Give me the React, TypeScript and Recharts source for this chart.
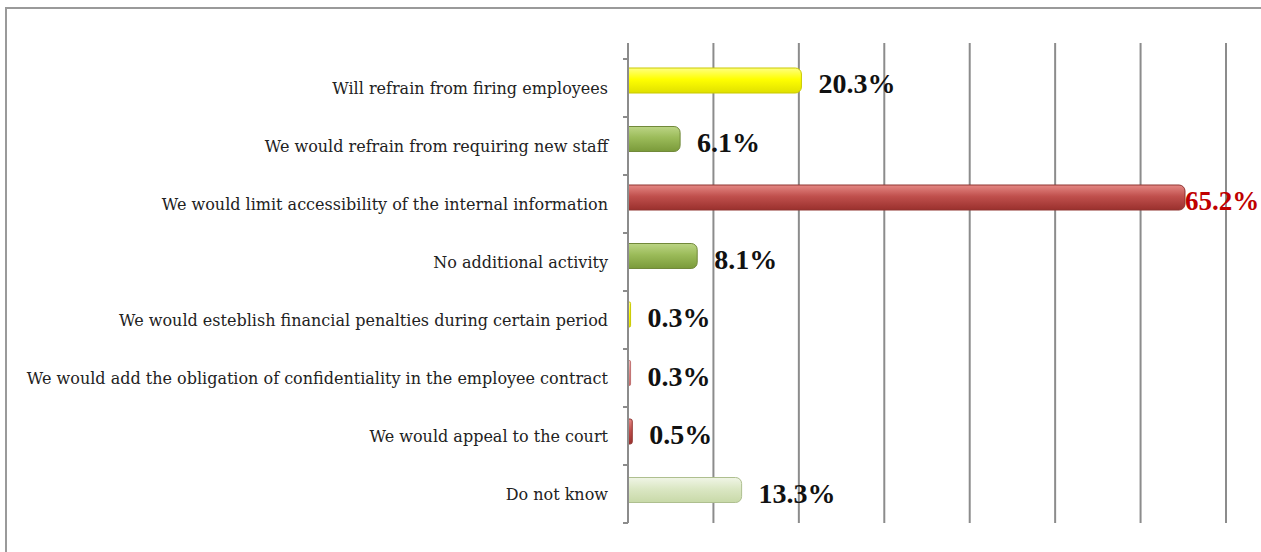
import { BarChart, Bar, XAxis, YAxis, CartesianGrid, Cell, LabelList } from "recharts";

const categories = [
  "Will refrain from firing employees",
  "We would refrain from requiring new staff",
  "We would limit accessibility of the internal information",
  "No additional activity",
  "We would esteblish financial penalties during certain period",
  "We would add the obligation of confidentiality in the employee contract",
  "We would appeal to the court",
  "Do not know",
];
const shares = [20.3, 6.1, 65.2, 8.1, 0.3, 0.3, 0.5, 13.3];
const xTicks = [0, 10, 20, 30, 40, 50, 60, 70];

// gradient id per bar, in category order
const barFills = ["yellow", "green", "red", "green", "yellow", "pink", "red", "pale"];

const GRADS: Record<string, [string, string, string, string]> = {
  yellow: ["#ffff80", "#ffff00", "#e0e000", "#c9c900"],
  green: ["#bcd585", "#9bbb59", "#7a9a3a", "#71893a"],
  red: ["#e58884", "#c0504d", "#9a302d", "#8f3431"],
  pink: ["#f0b8b6", "#e08c8a", "#c86a68", "#c07070"],
  pale: ["#f0f5e6", "#dbe7c4", "#c8d9a8", "#aebf8f"],
};

const data = categories.map((name, i) => ({ name, value: shares[i] }));

const PLOT_TOP = 43;
const PAD_TOP = 16;
const PLOT_BOTTOM = 523;
const BAND = (PLOT_BOTTOM - PLOT_TOP - PAD_TOP) / categories.length;
const SERIF = "'DejaVu Serif', serif";
const maxShare = Math.max(...shares);

function CategoryTick(props: any) {
  const { x, y, payload, index } = props;
  const ax = x + 20;
  return (
    <g>
      <text x={x} y={y} textAnchor="end" dominantBaseline="central" fontFamily={SERIF} fontSize={16} fill="#222">
        {payload.value}
      </text>
      <line x1={ax - 5} x2={ax} y1={y - BAND / 2} y2={y - BAND / 2} stroke="#8c8c8c" strokeWidth={2} />
      {index === categories.length - 1 && (
        <line x1={ax - 5} x2={ax} y1={y + BAND / 2} y2={y + BAND / 2} stroke="#8c8c8c" strokeWidth={2} />
      )}
    </g>
  );
}

function ValueLabel(props: any) {
  const { x, y, width, height, value } = props;
  const top = value === maxShare;
  return (
    <text
      x={x + width + (top ? 0 : 17)}
      y={y + height / 2 + 3}
      dominantBaseline="central"
      fontFamily="'Liberation Serif', serif"
      fontWeight="bold"
      fontSize={top ? 27 : 28}
      fill={top ? "#c00000" : "#111"}
    >
      {value.toFixed(1)}%
    </text>
  );
}

export default function App() {
  return (
    <div style={{ position: "fixed", left: 0, top: 0, width: 1261, height: 552, overflow: "hidden", background: "#fff" }}>
      <div style={{ position: "absolute", left: 5, top: 7, width: 1400, height: 700, border: "2px solid #9a9a9a" }} />
      <div style={{ position: "absolute", left: 0, top: 0 }}>
        <BarChart
          width={1261}
          height={552}
          data={data}
          layout="vertical"
          margin={{ top: PLOT_TOP, right: 35, bottom: 552 - PLOT_BOTTOM, left: 0 }}
          barSize={25}
        >
          <defs>
            {Object.entries(GRADS).map(([k, c]) => (
              <linearGradient key={k} id={`g-${k}`} x1="0" y1="0" x2="0" y2="1">
                <stop offset="0%" stopColor={c[0]} />
                <stop offset="45%" stopColor={c[1]} />
                <stop offset="100%" stopColor={c[2]} />
              </linearGradient>
            ))}
          </defs>
          <CartesianGrid horizontal={false} stroke="#8c8c8c" strokeWidth={2} />
          <XAxis type="number" domain={[0, 70]} ticks={xTicks} hide />
          <YAxis
            type="category"
            dataKey="name"
            width={628}
            padding={{ top: PAD_TOP, bottom: 0 }}
            axisLine={{ stroke: "#8c8c8c", strokeWidth: 2 }}
            tickLine={false}
            tickSize={0}
            tickMargin={20}
            tick={<CategoryTick />}
            interval={0}
          />
          {/* bars sit a little above the label rows, like the 3D original */}
          <YAxis yAxisId="bars" type="category" dataKey="name" hide width={0} padding={{ top: 8, bottom: 4 }} />
          <Bar dataKey="value" yAxisId="bars" radius={[0, 6, 6, 0]} isAnimationActive={false}>
            {data.map((d, i) => (
              <Cell key={d.name} fill={`url(#g-${barFills[i]})`} stroke={GRADS[barFills[i]][3]} strokeWidth={1} />
            ))}
            <LabelList dataKey="value" content={<ValueLabel />} />
          </Bar>
        </BarChart>
      </div>
    </div>
  );
}
